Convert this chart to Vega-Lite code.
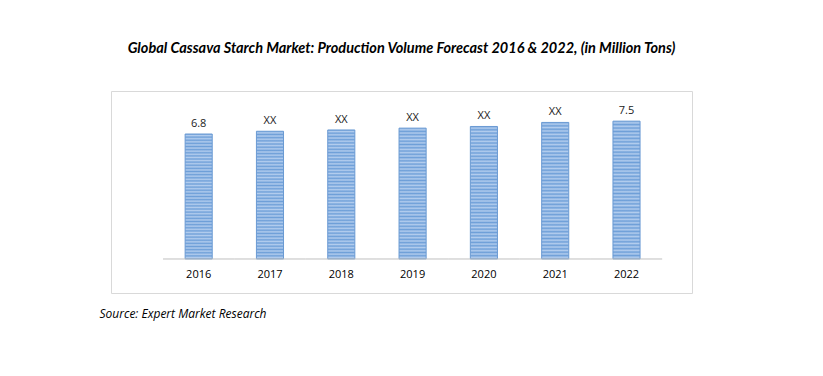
{
  "$schema": "https://vega.github.io/schema/vega-lite/v6.json",
  "width": 581,
  "height": 202,
  "autosize": {"type": "none"},
  "padding": {"left": 111, "top": 91, "right": 131, "bottom": 83},
  "background": "#ffffff",
  "title": {
    "text": "Global Cassava Starch Market: Production Volume Forecast 2016 & 2022, (in Million Tons)",
    "font": "Lato",
    "fontSize": 14.5,
    "fontStyle": "italic",
    "fontWeight": "bold",
    "color": "#000000",
    "anchor": "middle",
    "offset": 35
  },
  "config": {
    "view": {"stroke": "#d9d9d9", "strokeWidth": 1},
    "font": "Open Sans"
  },
  "data": {
    "values": [
      {"year": "2016", "value": 6.8, "label": "6.8"},
      {"year": "2017", "value": 6.95, "label": "XX"},
      {"year": "2018", "value": 7.02, "label": "XX"},
      {"year": "2019", "value": 7.12, "label": "XX"},
      {"year": "2020", "value": 7.21, "label": "XX"},
      {"year": "2021", "value": 7.43, "label": "XX"},
      {"year": "2022", "value": 7.5, "label": "7.5"}
    ]
  },
  "encoding": {
    "x": {
      "field": "year",
      "type": "ordinal",
      "scale": {"paddingInner": 0.62, "paddingOuter": 0.884, "align": 0.588},
      "axis": {
        "orient": "bottom",
        "offset": -34,
        "domain": false,
        "ticks": false,
        "grid": false,
        "labelAngle": 0,
        "labelFont": "Open Sans",
        "labelFontSize": 11,
        "labelColor": "#000000",
        "labelPadding": 9,
        "title": "Source: Expert Market Research",
        "titleFont": "Open Sans",
        "titleFontSize": 12,
        "titleFontStyle": "italic",
        "titleFontWeight": "normal",
        "titleColor": "#000000",
        "titleAnchor": "start",
        "titleAlign": "left",
        "titleBaseline": "middle",
        "titleX": -12,
        "titleY": 54
      }
    }
  },
  "layer": [
    {
      "mark": {
        "type": "bar",
        "stroke": "#6a9ad3",
        "strokeWidth": 1,
        "fill": {
          "gradient": "linear",
          "x1": 0, "y1": 0, "x2": 0, "y2": 1,
          "stops": [
            {"offset": 0, "color": "#6e9fd8"},
            {"offset": 0.0125, "color": "#b3cdee"},
            {"offset": 0.025, "color": "#6e9fd8"},
            {"offset": 0.0375, "color": "#b3cdee"},
            {"offset": 0.05, "color": "#6e9fd8"},
            {"offset": 0.0625, "color": "#b3cdee"},
            {"offset": 0.075, "color": "#6e9fd8"},
            {"offset": 0.0875, "color": "#b3cdee"},
            {"offset": 0.1, "color": "#6e9fd8"},
            {"offset": 0.1125, "color": "#b3cdee"},
            {"offset": 0.125, "color": "#6e9fd8"},
            {"offset": 0.1375, "color": "#b3cdee"},
            {"offset": 0.15, "color": "#6e9fd8"},
            {"offset": 0.1625, "color": "#b3cdee"},
            {"offset": 0.175, "color": "#6e9fd8"},
            {"offset": 0.1875, "color": "#b3cdee"},
            {"offset": 0.2, "color": "#6e9fd8"},
            {"offset": 0.2125, "color": "#b3cdee"},
            {"offset": 0.225, "color": "#6e9fd8"},
            {"offset": 0.2375, "color": "#b3cdee"},
            {"offset": 0.25, "color": "#6e9fd8"},
            {"offset": 0.2625, "color": "#b3cdee"},
            {"offset": 0.275, "color": "#6e9fd8"},
            {"offset": 0.2875, "color": "#b3cdee"},
            {"offset": 0.3, "color": "#6e9fd8"},
            {"offset": 0.3125, "color": "#b3cdee"},
            {"offset": 0.325, "color": "#6e9fd8"},
            {"offset": 0.3375, "color": "#b3cdee"},
            {"offset": 0.35, "color": "#6e9fd8"},
            {"offset": 0.3625, "color": "#b3cdee"},
            {"offset": 0.375, "color": "#6e9fd8"},
            {"offset": 0.3875, "color": "#b3cdee"},
            {"offset": 0.4, "color": "#6e9fd8"},
            {"offset": 0.4125, "color": "#b3cdee"},
            {"offset": 0.425, "color": "#6e9fd8"},
            {"offset": 0.4375, "color": "#b3cdee"},
            {"offset": 0.45, "color": "#6e9fd8"},
            {"offset": 0.4625, "color": "#b3cdee"},
            {"offset": 0.475, "color": "#6e9fd8"},
            {"offset": 0.4875, "color": "#b3cdee"},
            {"offset": 0.5, "color": "#6e9fd8"},
            {"offset": 0.5125, "color": "#b3cdee"},
            {"offset": 0.525, "color": "#6e9fd8"},
            {"offset": 0.5375, "color": "#b3cdee"},
            {"offset": 0.55, "color": "#6e9fd8"},
            {"offset": 0.5625, "color": "#b3cdee"},
            {"offset": 0.575, "color": "#6e9fd8"},
            {"offset": 0.5875, "color": "#b3cdee"},
            {"offset": 0.6, "color": "#6e9fd8"},
            {"offset": 0.6125, "color": "#b3cdee"},
            {"offset": 0.625, "color": "#6e9fd8"},
            {"offset": 0.6375, "color": "#b3cdee"},
            {"offset": 0.65, "color": "#6e9fd8"},
            {"offset": 0.6625, "color": "#b3cdee"},
            {"offset": 0.675, "color": "#6e9fd8"},
            {"offset": 0.6875, "color": "#b3cdee"},
            {"offset": 0.7, "color": "#6e9fd8"},
            {"offset": 0.7125, "color": "#b3cdee"},
            {"offset": 0.725, "color": "#6e9fd8"},
            {"offset": 0.7375, "color": "#b3cdee"},
            {"offset": 0.75, "color": "#6e9fd8"},
            {"offset": 0.7625, "color": "#b3cdee"},
            {"offset": 0.775, "color": "#6e9fd8"},
            {"offset": 0.7875, "color": "#b3cdee"},
            {"offset": 0.8, "color": "#6e9fd8"},
            {"offset": 0.8125, "color": "#b3cdee"},
            {"offset": 0.825, "color": "#6e9fd8"},
            {"offset": 0.8375, "color": "#b3cdee"},
            {"offset": 0.85, "color": "#6e9fd8"},
            {"offset": 0.8625, "color": "#b3cdee"},
            {"offset": 0.875, "color": "#6e9fd8"},
            {"offset": 0.8875, "color": "#b3cdee"},
            {"offset": 0.9, "color": "#6e9fd8"},
            {"offset": 0.9125, "color": "#b3cdee"},
            {"offset": 0.925, "color": "#6e9fd8"},
            {"offset": 0.9375, "color": "#b3cdee"},
            {"offset": 0.95, "color": "#6e9fd8"},
            {"offset": 0.9625, "color": "#b3cdee"},
            {"offset": 0.975, "color": "#6e9fd8"},
            {"offset": 0.9875, "color": "#b3cdee"},
            {"offset": 1, "color": "#6e9fd8"}
          ]
        }
      },
      "encoding": {
        "y": {
          "field": "value",
          "type": "quantitative",
          "scale": {"domain": [-1.85, 9.14], "nice": false, "zero": false},
          "axis": null
        }
      }
    },
    {
      "mark": {"type": "text", "baseline": "bottom", "dy": -5, "fontSize": 11, "font": "Open Sans", "color": "#1a1a1a"},
      "encoding": {
        "y": {"field": "value", "type": "quantitative"},
        "text": {"field": "label"}
      }
    },
    {
      "mark": {"type": "rule", "color": "#bfbfbf", "strokeWidth": 1},
      "encoding": {
        "x": {"field": "year", "type": "ordinal", "bandPosition": -0.816},
        "x2": {"field": "year", "bandPosition": 1.816},
        "y": {"datum": 0}
      }
    }
  ]
}
